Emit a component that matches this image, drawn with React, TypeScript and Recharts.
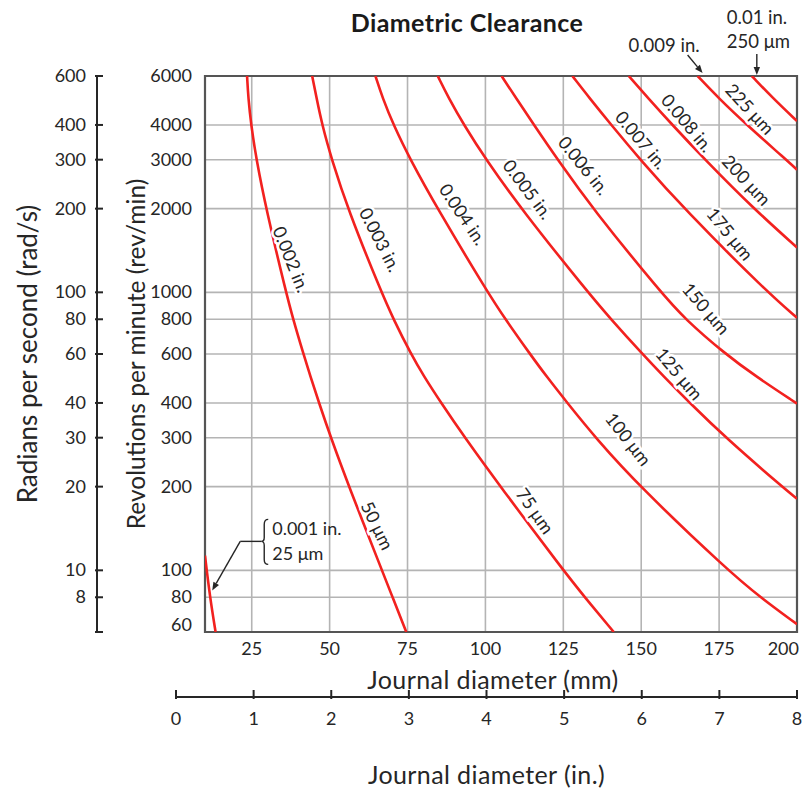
import React from "react";
import {
  CartesianGrid,
  ComposedChart,
  Line,
  ReferenceArea,
  ReferenceDot,
  XAxis,
  YAxis,
} from "recharts";

// Diametric clearance vs journal diameter and shaft speed.
// Each curve is one clearance value; points are [mm, rev/min].

const RPM_TICKS = [60, 80, 100, 200, 300, 400, 500, 600, 800, 1000, 2000, 3000, 4000, 5000, 6000];
const RAD_TICKS = [6, 8, 10, 20, 30, 40, 50, 60, 80, 100, 200, 300, 400, 500, 600];
const MM_TICKS = [25, 50, 75, 100, 125, 150, 175, 200];
const INCH_TICKS = [0, 1, 2, 3, 4, 5, 6, 7, 8];

const C_001 = [[10, 113], [11.6, 80], [13.4, 60]];
const C_002 = [[23.5, 6000], [23.9, 5000], [24.8, 4000], [26.5, 3000], [29.6, 2000], [36, 1000], [38.3, 800], [41.6, 600], [43.8, 500], [46.6, 400], [50.4, 300], [56.2, 200], [66.8, 100], [70.2, 80], [74.6, 60]];
const C_003 = [[44.4, 6000], [45.8, 5000], [47.6, 4000], [50.7, 3000], [55.8, 2000], [66.6, 1000], [70.5, 800], [76.1, 600], [80.2, 500], [85.8, 400], [93.4, 300], [104.8, 200], [125, 100], [131.9, 80], [141.2, 60]];
const C_004 = [[64.7, 6000], [67, 5000], [70.5, 4000], [75.9, 3000], [84.6, 2000], [100.7, 1000], [106.4, 800], [114.3, 600], [119.5, 500], [126.3, 400], [135.3, 300], [149.5, 200], [177.8, 100], [188.2, 80], [200, 64]];
const C_005 = [[84.7, 6000], [88.2, 5000], [93.1, 4000], [100.2, 3000], [111.4, 2000], [132.9, 1000], [140.3, 800], [150.4, 600], [157.1, 500], [165.6, 400], [177.1, 300], [195.2, 200], [200, 181]];
const C_006 = [[105.2, 6000], [109.8, 5000], [115.6, 4000], [123.2, 3000], [134.4, 2000], [156.3, 1000], [164.1, 800], [177, 600], [186.6, 500], [200, 398]];
const C_007 = [[127.9, 6000], [133.4, 5000], [140.4, 4000], [149.7, 3000], [163.7, 2000], [190.5, 1000], [200, 810]];
const C_008 = [[146, 6000], [152.2, 5000], [160, 4000], [170.5, 3000], [186.1, 2000], [200, 1450]];
const C_009 = [[168.1, 6000], [174.8, 5000], [183.9, 4000], [196.5, 3000], [200, 2760]];
const C_010 = [[185.5, 6000], [192.2, 5000], [200, 4130]];

const CURVES = [C_001, C_002, C_003, C_004, C_005, C_006, C_007, C_008, C_009, C_010];

// in-plot labels: [text, mm, rev/min, angle]
const CURVE_LABELS: [string, number, number, number][] = [
  ["0.002 in.", 37.8, 1316, 68],
  ["0.003 in.", 66.3, 1548, 63],
  ["0.004 in.", 92.9, 1911, 56],
  ["0.005 in.", 113.7, 2352, 53],
  ["0.006 in.", 131.7, 2865, 51],
  ["0.007 in.", 150.1, 3536, 50],
  ["0.008 in.", 164.9, 4071, 50],
  ["225 μm", 185, 4571, 47],
  ["200 μm", 183.9, 2537, 47],
  ["175 μm", 178.6, 1624, 51],
  ["150 μm", 170.9, 876, 49],
  ["125 μm", 162.3, 510, 50],
  ["100 μm", 146, 297, 52],
  ["75 μm", 116, 164, 55],
  ["50 μm", 65.4, 145, 64],
];

const RPM_AXIS = "a_rpm";
const RAD_AXIS = "b_rad";

const FONT = "Lato, 'DejaVu Sans', sans-serif";
const INK = "#262626";
const RED = "#f2211f";
const GRID = "#b4b4b4";

const toPoints = (c: number[][]) => c.map(([mm, rpm]) => ({ mm, rpm }));

function arrow(x1: number, y1: number, x2: number, y2: number) {
  const a = Math.atan2(y2 - y1, x2 - x1);
  const L = 8;
  const W = 3.2;
  const bx = x2 - L * Math.cos(a);
  const by = y2 - L * Math.sin(a);
  const px = -Math.sin(a) * W;
  const py = Math.cos(a) * W;
  return (
    <g>
      <line x1={x1} y1={y1} x2={bx} y2={by} stroke={INK} strokeWidth={1.4} />
      <path d={`M${x2},${y2} L${bx + px},${by + py} L${bx - px},${by - py} Z`} fill={INK} />
    </g>
  );
}

const txt = { fontFamily: FONT, fill: INK } as const;

function MmTick({ x, y, payload }: any) {
  const last = payload.value === 200;
  return (
    <text x={last ? x + 5 : x} y={y + 21} textAnchor={last ? "end" : "middle"} fontSize={18} {...txt}>
      {payload.value}
    </text>
  );
}

function RpmTick({ x, y, payload }: any) {
  const dy = payload.value === 60 ? -7 : 0;
  return (
    <text x={x - 11} y={y + 6 + dy} textAnchor="end" fontSize={18} {...txt}>
      {payload.value}
    </text>
  );
}

function RadTick({ x, y, payload }: any) {
  return (
    <g>
      <line x1={x} x2={x + 8} y1={y} y2={y} stroke={INK} strokeWidth={2} />
      {payload.value !== 6 && (
        <text x={x - 9} y={y + 6} textAnchor="end" fontSize={18} {...txt}>
          {payload.value}
        </text>
      )}
    </g>
  );
}

function InchTick({ x, y, payload }: any) {
  return (
    <g>
      <line x1={x} x2={x} y1={y} y2={y - 9} stroke={INK} strokeWidth={2} />
      <text x={x} y={y + 26} textAnchor="middle" fontSize={18} {...txt}>
        {payload.value}
      </text>
    </g>
  );
}

function vTitle(text: string, dx: number, size: number) {
  return ({ viewBox }: any) => {
    const cx = viewBox.x + dx;
    const cy = viewBox.y + viewBox.height / 2;
    return (
      <text x={cx} y={cy} transform={`rotate(-90 ${cx} ${cy})`} textAnchor="middle" dominantBaseline="central" fontSize={size} {...txt}>
        {text}
      </text>
    );
  };
}

function hTitle(text: string, dx: number, dy: number) {
  return ({ viewBox }: any) => (
    <text x={viewBox.x + viewBox.width / 2 + dx} y={viewBox.y + dy} textAnchor="middle" fontSize={25} letterSpacing={0.4} {...txt}>
      {text}
    </text>
  );
}

function curveLabel(text: string, angle: number) {
  return ({ cx, cy }: any) => (
    <text
      x={cx}
      y={cy}
      transform={`rotate(${angle} ${cx} ${cy})`}
      textAnchor="middle"
      dominantBaseline="central"
      fontSize={18}
      stroke="#fff"
      strokeWidth={5}
      paintOrder="stroke"
      {...txt}
    >
      {text}
    </text>
  );
}

const note009 = ({ cx, cy }: any) => (
  <g>
    {arrow(cx - 10, cy - 21, cx + 5, cy - 3)}
    <text x={cx + 2} y={cy - 24} textAnchor="end" fontSize={18.5} {...txt}>0.009 in.</text>
  </g>
);

const note010 = ({ cx, cy }: any) => (
  <g>
    {arrow(cx + 5, cy - 22, cx + 5, cy - 1)}
    <text x={cx - 25} y={cy - 52} fontSize={18.5} {...txt}>0.01 in.</text>
    <text x={cx - 25} y={cy - 28} fontSize={18.5} {...txt}>250 μm</text>
  </g>
);

const note001 = ({ cx, cy }: any) => {
  const bx = cx + 50;
  const top = cy - 72;
  const mid = cy - 50;
  const bot = cy - 27;
  return (
    <g>
      {arrow(cx + 29, mid, cx + 1, cy - 1)}
      <line x1={cx + 29} y1={mid} x2={bx} y2={mid} stroke={INK} strokeWidth={1.4} />
      <path
        d={`M${bx + 7},${top} Q${bx + 3},${top} ${bx + 3},${top + 5} L${bx + 3},${mid - 4} Q${bx + 3},${mid} ${bx},${mid} Q${bx + 3},${mid} ${bx + 3},${mid + 4} L${bx + 3},${bot - 5} Q${bx + 3},${bot} ${bx + 7},${bot}`}
        fill="none"
        stroke={INK}
        strokeWidth={1.4}
      />
      <text x={bx + 11} y={cy - 56} fontSize={18} {...txt}>0.001 in.</text>
      <text x={bx + 11} y={cy - 31} fontSize={18} {...txt}>25 μm</text>
    </g>
  );
};

export default function App() {
  return (
    <div style={{ position: "absolute", left: 0, top: 0, width: 806, height: 793, background: "#fff" }}>
      <div
        style={{
          position: "absolute",
          left: 267,
          top: 8,
          width: 400,
          textAlign: "center",
          fontFamily: FONT,
          fontWeight: 700,
          fontSize: 25,
          letterSpacing: 0.4,
          lineHeight: "28px",
          color: "#1a1a1a",
        }}
      >
        Diametric Clearance
      </div>

      <div style={{ position: "absolute", left: 0, top: 0 }}>
        <ComposedChart width={806} height={700} margin={{ top: 76, right: 9, bottom: 8, left: 0 }}>
          <XAxis
            xAxisId="mm"
            dataKey="mm"
            type="number"
            domain={[10, 200]}
            ticks={MM_TICKS}
            allowDataOverflow
            height={60}
            axisLine={false}
            tickLine={false}
            tickSize={0}
            tick={MmTick}
            label={{ content: hTitle("Journal diameter (mm)", -8, 57) }}
          />
          <YAxis
            yAxisId={RPM_AXIS}
            type="number"
            scale="log"
            domain={[60, 6000]}
            ticks={RPM_TICKS}
            allowDataOverflow
            width={108}
            axisLine={false}
            tickLine={false}
            tickSize={0}
            tick={RpmTick}
            label={{ content: vTitle("Revolutions per minute (rev/min)", 38, 24.5) }}
          />
          <YAxis
            yAxisId={RAD_AXIS}
            type="number"
            scale="log"
            domain={[6, 600]}
            ticks={RAD_TICKS}
            allowDataOverflow
            width={97}
            axisLine={{ stroke: INK, strokeWidth: 2 }}
            tickLine={false}
            tickSize={0}
            tick={RadTick}
            label={{ content: vTitle("Radians per second (rad/s)", 27, 26) }}
          />
          <CartesianGrid xAxisId="mm" yAxisId={RPM_AXIS} stroke={GRID} strokeWidth={1.6} />
          {CURVES.map((c, i) => (
            <Line
              key={i}
              xAxisId="mm"
              yAxisId={RPM_AXIS}
              data={toPoints(c)}
              dataKey="rpm"
              type="basis"
              stroke={RED}
              strokeWidth={2.6}
              dot={false}
              activeDot={false}
              isAnimationActive={false}
            />
          ))}
          <ReferenceArea
            xAxisId="mm"
            yAxisId={RPM_AXIS}
            x1={10}
            x2={200}
            y1={60}
            y2={6000}
            fill="none"
            fillOpacity={0}
            stroke="#555"
            strokeWidth={2.2}
          />
          {CURVE_LABELS.map(([t, mm, rpm, ang]) => (
            <ReferenceDot key={t} xAxisId="mm" yAxisId={RPM_AXIS} x={mm} y={rpm} ifOverflow="visible" shape={curveLabel(t, ang)} />
          ))}
          <ReferenceDot xAxisId="mm" yAxisId={RPM_AXIS} x={C_009[0][0]} y={C_009[0][1]} ifOverflow="visible" shape={note009} />
          <ReferenceDot xAxisId="mm" yAxisId={RPM_AXIS} x={C_010[0][0]} y={C_010[0][1]} ifOverflow="visible" shape={note010} />
          <ReferenceDot xAxisId="mm" yAxisId={RPM_AXIS} x={12} y={84} ifOverflow="visible" shape={note001} />
        </ComposedChart>
      </div>

      <div style={{ position: "absolute", left: 0, top: 640 }}>
        <ComposedChart
          width={806}
          height={153}
          data={INCH_TICKS.map((v) => ({ inch: v }))}
          margin={{ top: 0, right: 9, bottom: 6, left: 176 }}
        >
          <XAxis
            dataKey="inch"
            type="number"
            domain={[0, 8]}
            ticks={INCH_TICKS}
            allowDataOverflow
            height={90}
            axisLine={{ stroke: INK, strokeWidth: 2 }}
            tickLine={false}
            tickSize={0}
            tick={InchTick}
            label={{ content: hTitle("Journal diameter (in.)", 0, 87) }}
          />
          <YAxis hide />
        </ComposedChart>
      </div>
    </div>
  );
}
